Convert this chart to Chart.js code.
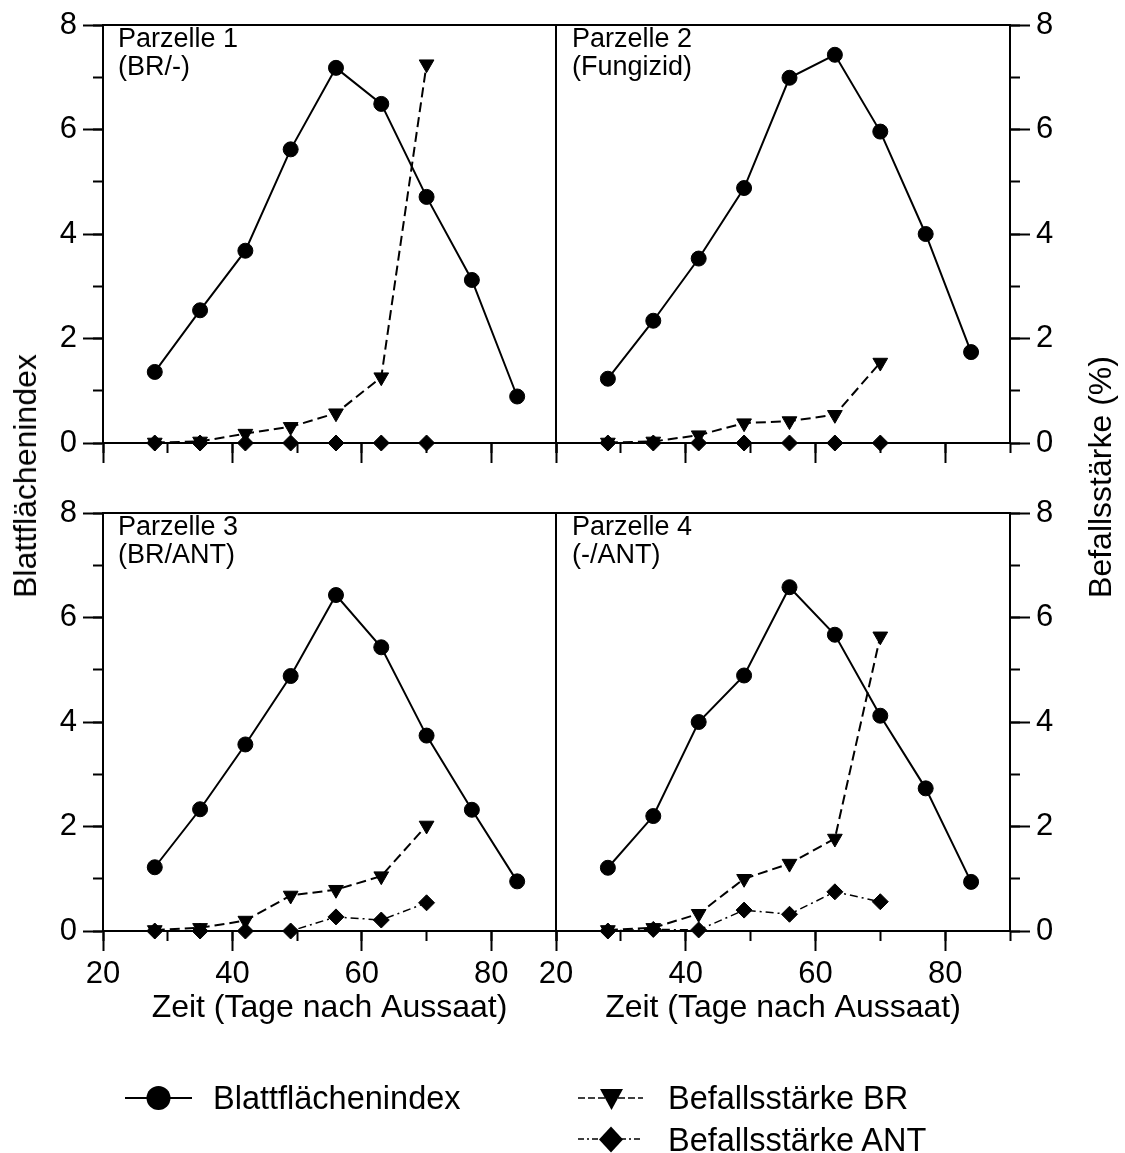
<!DOCTYPE html>
<html lang="de">
<head>
<meta charset="utf-8">
<script src="https://cdn.jsdelivr.net/npm/chart.js@4.4.1/dist/chart.umd.min.js"></script>
<style>
  html, body { margin: 0; padding: 0; background: #fff; }
  body {
    width: 1125px; height: 1153px; position: relative; overflow: hidden;
    font-family: "Liberation Sans", Arial, Helvetica, sans-serif; color: #000;
  }
  canvas { position: absolute; left: 0; top: 0; }
  .plabel { position: absolute; font-size: 27px; line-height: 28px; white-space: nowrap; }
  .ytitle {
    position: absolute; font-size: 32px; line-height: 38px; white-space: nowrap;
    transform: translate(-50%, -50%) rotate(-90deg);
  }
  .leg { position: absolute; font-size: 32.5px; line-height: 38px; white-space: nowrap; }
  svg { position: absolute; overflow: visible; }
</style>
</head>
<body>
<canvas id="p1" width="1125" height="1153"></canvas>
<canvas id="p2" width="1125" height="1153"></canvas>
<canvas id="p3" width="1125" height="1153"></canvas>
<canvas id="p4" width="1125" height="1153"></canvas>

<div class="plabel" style="left:118px; top:24px;">Parzelle 1<br>(BR/-)</div>
<div class="plabel" style="left:572px; top:24px;">Parzelle 2<br>(Fungizid)</div>
<div class="plabel" style="left:118px; top:512px;">Parzelle 3<br>(BR/ANT)</div>
<div class="plabel" style="left:572px; top:512px;">Parzelle 4<br>(-/ANT)</div>

<div class="ytitle" style="left:25px; top:476px;">Blattflächenindex</div>
<div class="ytitle" style="left:1100px; top:477px;">Befallsstärke (%)</div>

<!-- legend -->
<svg style="left:0; top:0;" width="1125" height="1153">
  <line x1="125" y1="1098" x2="192" y2="1098" stroke="#000" stroke-width="2"/>
  <circle cx="158.5" cy="1098" r="12" fill="#000"/>
  <line x1="578" y1="1098" x2="643" y2="1098" stroke="#000" stroke-width="1.5" stroke-dasharray="7,3"/>
  <polygon points="600,1089 623,1089 611.5,1110" fill="#000"/>
  <line x1="578" y1="1139" x2="643" y2="1139" stroke="#000" stroke-width="1.5" stroke-dasharray="6,3,2,3"/>
  <polygon points="599,1139.5 611,1126.5 623,1139.5 611,1152.5" fill="#000"/>
</svg>
<div class="leg" style="left:213px; top:1079px;">Blattflächenindex</div>
<div class="leg" style="left:668px; top:1079px;">Befallsstärke BR</div>
<div class="leg" style="left:668px; top:1121px;">Befallsstärke ANT</div>

<script>
const days = [28, 35, 42, 49, 56, 63, 70, 77, 84];
const yTicks = [0, 2, 4, 6, 8];
const xTicks = [20, 40, 60, 80];

// Blattflächenindex per Parzelle (9 Termine)
const bfi1 = [1.36, 2.54, 3.68, 5.62, 7.18, 6.49, 4.71, 3.12, 0.89];
const bfi2 = [1.23, 2.34, 3.53, 4.88, 6.99, 7.43, 5.96, 4.00, 1.74];
const bfi3 = [1.22, 2.33, 3.57, 4.88, 6.43, 5.43, 3.74, 2.32, 0.95];
const bfi4 = [1.21, 2.20, 4.00, 4.89, 6.58, 5.67, 4.12, 2.73, 0.94];

// Befallsstärke BR (%), erste 7 Termine
const br1 = [0.01, 0.03, 0.18, 0.31, 0.57, 1.26, 7.25];
const br2 = [0.01, 0.03, 0.15, 0.38, 0.42, 0.54, 1.54];
const br3 = [0.02, 0.06, 0.20, 0.68, 0.79, 1.05, 2.02];
const br4 = [0.02, 0.06, 0.33, 1.00, 1.29, 1.77, 5.64];

// Befallsstärke ANT (%)
const ant1 = [0, 0, 0, 0, 0, 0, 0];
const ant2 = [0, 0, 0, 0, 0, 0, 0];
const ant3 = [0, 0, 0, 0, 0.27, 0.21, 0.54];
const ant4 = [0, 0.03, 0.02, 0.40, 0.32, 0.75, 0.56];

const W = 1125, H = 1153;
const black = '#000';
Chart.defaults.font.family = "'Liberation Sans', Arial, Helvetica, sans-serif";
Chart.defaults.color = black;

const pts = (vals) => vals.map((v, i) => ({ x: days[i], y: v }));

function makePanel(id, box, bfi, br, ant, side, showX) {
  const other = side === 'left' ? 'right' : 'left';
  const xh = showX ? 96 : 30;

  new Chart(document.getElementById(id), {
    type: 'line',
    data: {
      datasets: [
        {
          label: 'Blattflächenindex', data: pts(bfi),
          borderColor: black, backgroundColor: black, borderWidth: 2,
          pointStyle: 'circle', pointRadius: 7.5, pointBorderWidth: 1, clip: false
        },
        {
          label: 'Befallsstärke BR', data: pts(br),
          borderColor: black, backgroundColor: black, borderWidth: 2, borderDash: [10, 5],
          pointStyle: 'triangle', pointRotation: 180, pointRadius: 8.5, pointBorderWidth: 1, clip: false
        },
        {
          label: 'Befallsstärke ANT', data: pts(ant),
          borderColor: black, backgroundColor: black, borderWidth: 1.5, borderDash: [8, 4, 2, 4],
          pointStyle: 'rectRot', pointRadius: 8, pointBorderWidth: 1, clip: false
        }
      ]
    },
    options: {
      responsive: false,
      animation: false,
      events: [],
      layout: {
        autoPadding: false,
        padding: {
          left: side === 'left' ? box.l - 100 : box.l,
          right: side === 'right' ? W - box.r - 100 : W - box.r,
          top: box.t,
          bottom: H - box.b - xh
        }
      },
      plugins: { legend: { display: false }, tooltip: { enabled: false } },
      scales: {
        x: {
          type: 'linear', position: 'bottom', min: 20, max: 90, weight: 1,
          afterFit: s => { s.height = xh; },
          afterBuildTicks: s => { s.ticks = xTicks.map(v => ({ value: v })); },
          ticks: { display: showX, autoSkip: false, maxRotation: 0, color: black, font: { size: 31 }, padding: 5 },
          grid: { drawOnChartArea: false, tickLength: 20, tickWidth: 2, tickColor: black },
          border: { color: black, width: 2 },
          title: { display: showX, text: 'Zeit (Tage nach Aussaat)', color: black, font: { size: 32 }, padding: 0 }
        },
        xm: {
          axis: 'x', type: 'linear', position: 'bottom', min: 20, max: 90, weight: 0,
          afterFit: s => { s.height = 0; },
          ticks: { display: false, stepSize: 10, autoSkip: false },
          grid: { drawOnChartArea: false, tickLength: 10, tickWidth: 2, tickColor: black },
          border: { display: false }
        },
        xt: {
          axis: 'x', type: 'linear', position: 'top', min: 20, max: 90,
          afterFit: s => { s.height = 0; },
          ticks: { display: false },
          grid: { drawOnChartArea: false, drawTicks: false },
          border: { color: black, width: 2 }
        },
        y: {
          type: 'linear', position: side, min: 0, max: 8, weight: 1,
          afterFit: s => { s.width = 100; },
          afterBuildTicks: s => { s.ticks = yTicks.map(v => ({ value: v })); },
          ticks: { autoSkip: false, color: black, font: { size: 31 }, padding: 6 },
          grid: { drawOnChartArea: false, tickLength: 20, tickWidth: 2, tickColor: black },
          border: { color: black, width: 2 }
        },
        ym: {
          axis: 'y', type: 'linear', position: side, min: 0, max: 8, weight: 0,
          afterFit: s => { s.width = 0; },
          ticks: { display: false, stepSize: 1, autoSkip: false },
          grid: { drawOnChartArea: false, tickLength: 10, tickWidth: 2, tickColor: black },
          border: { display: false }
        },
        yo: {
          axis: 'y', type: 'linear', position: other, min: 0, max: 8,
          afterFit: s => { s.width = 0; },
          ticks: { display: false },
          grid: { drawOnChartArea: false, drawTicks: false },
          border: { color: black, width: 2 }
        }
      }
    }
  });
}

makePanel('p1', { l: 103, r: 556, t: 25, b: 443 }, bfi1, br1, ant1, 'left', false);
makePanel('p2', { l: 556, r: 1010, t: 25, b: 443 }, bfi2, br2, ant2, 'right', false);
makePanel('p3', { l: 103, r: 556, t: 513, b: 931 }, bfi3, br3, ant3, 'left', true);
makePanel('p4', { l: 556, r: 1010, t: 513, b: 931 }, bfi4, br4, ant4, 'right', true);
</script>
</body>
</html>
